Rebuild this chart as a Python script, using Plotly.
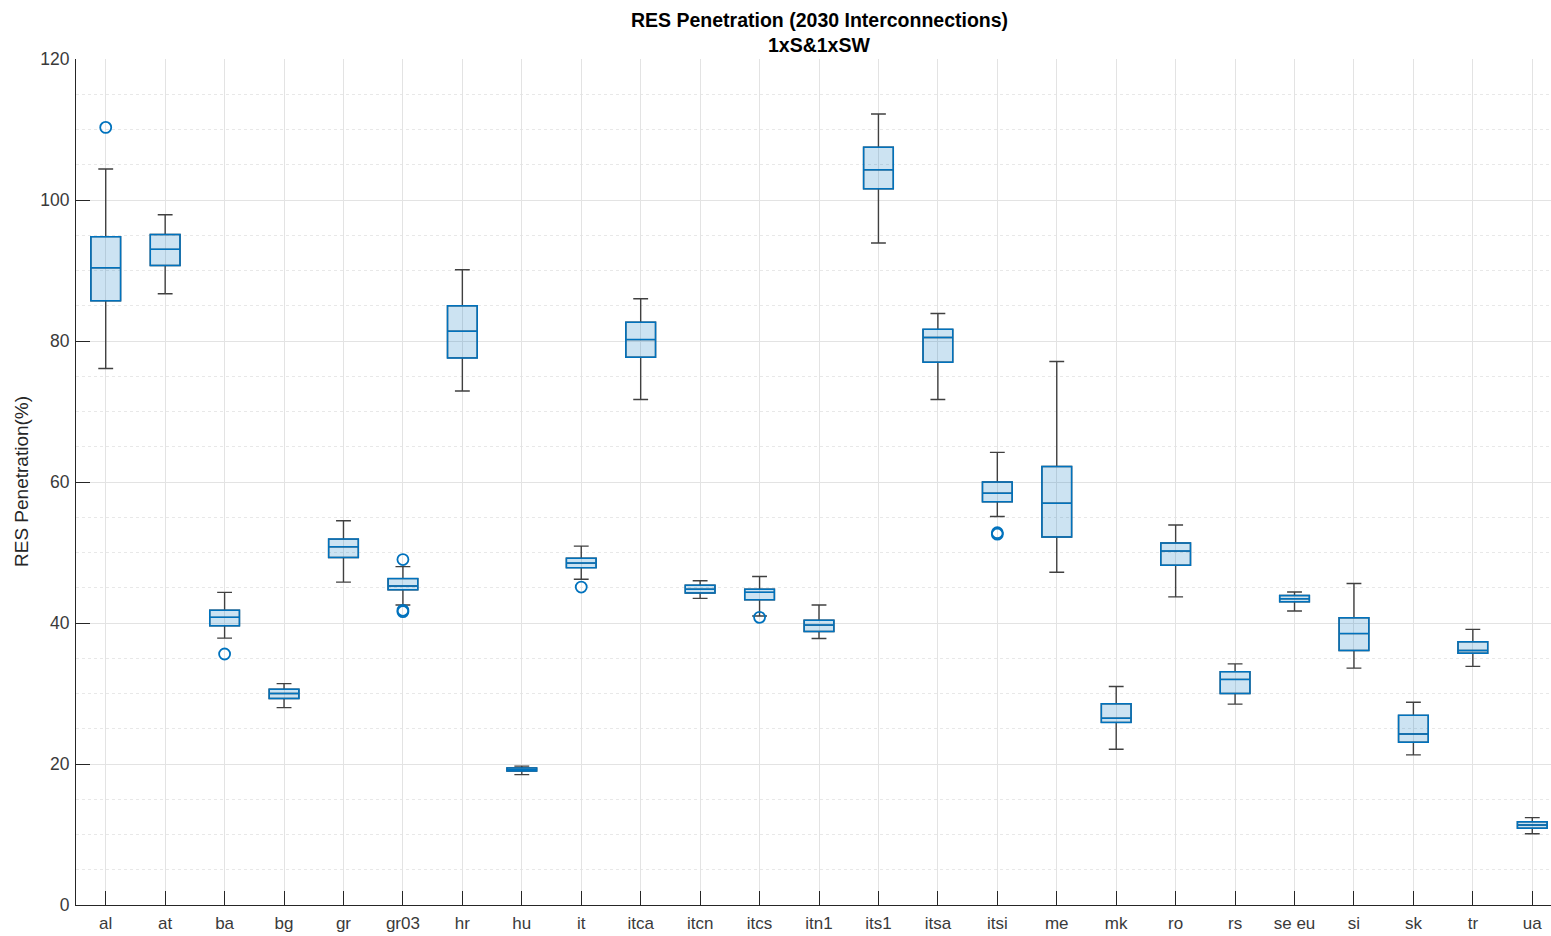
import plotly.graph_objects as go

categories = ['al', 'at', 'ba', 'bg', 'gr', 'gr03', 'hr', 'hu', 'it', 'itca', 'itcn', 'itcs', 'itn1',
              'its1', 'itsa', 'itsi', 'me', 'mk', 'ro', 'rs', 'se eu', 'si', 'sk', 'tr', 'ua']
lower = [76.1, 86.7, 37.85, 28.0, 45.8, 42.55, 72.9, 18.5, 46.2, 71.7, 43.5, 41.0, 37.8,
         93.9, 71.7, 55.1, 47.2, 22.1, 43.7, 28.5, 41.7, 33.6, 21.3, 33.85, 10.1]
q1 = [85.7, 90.7, 39.6, 29.3, 49.3, 44.7, 77.6, 19.0, 47.85, 77.7, 44.25, 43.3, 38.8,
      101.6, 77.0, 57.2, 52.2, 25.9, 48.2, 30.0, 43.0, 36.1, 23.1, 35.7, 10.9]
median = [90.4, 93.0, 40.8, 30.0, 50.8, 45.25, 81.4, 19.2, 48.5, 80.2, 44.8, 44.35, 39.7,
          104.3, 80.5, 58.4, 57.0, 26.5, 50.2, 32.0, 43.45, 38.5, 24.25, 36.1, 11.35]
q3 = [94.8, 95.1, 41.8, 30.6, 51.9, 46.3, 85.0, 19.45, 49.2, 82.65, 45.35, 44.8, 40.4,
      107.5, 81.65, 60.0, 62.2, 28.55, 51.35, 33.1, 43.9, 40.75, 26.9, 37.35, 11.8]
upper = [104.4, 97.9, 44.35, 31.4, 54.5, 48.0, 90.1, 19.7, 50.9, 86.0, 46.0, 46.6, 42.55,
         112.2, 83.9, 64.2, 77.1, 31.0, 53.9, 34.2, 44.4, 45.6, 28.75, 39.1, 12.4]

outlier_cat = ['al', 'ba', 'gr03', 'gr03', 'gr03', 'it', 'itcs', 'itsi', 'itsi']
outlier_val = [110.3, 35.6, 49.0, 41.6, 41.8, 45.1, 40.8, 52.6, 52.8]

y_ticks = [0, 20, 40, 60, 80, 100, 120]

title_line1 = 'RES Penetration (2030 Interconnections)'
title_line2 = '1xS&amp;1xSW'
y_title = 'RES Penetration(%)'

BLUE = '#0072BD'
DARK = '#404040'
AX = '#262626'
LBL = '#3a3a3a'
FONT = 'Liberation Sans, Arial, Helvetica, sans-serif'

xpos = list(range(1, len(categories) + 1))
idx = {c: i + 1 for i, c in enumerate(categories)}

fig = go.Figure()
# whiskers (dark)
fig.add_trace(go.Box(
    x=xpos, q1=q1, median=median, q3=q3, lowerfence=lower, upperfence=upper,
    width=0.5, whiskerwidth=0.5, line=dict(color=DARK, width=1.4),
    fillcolor='rgba(0,0,0,0)', boxpoints=False, showlegend=False, hoverinfo='skip'))
# boxes (blue)
fig.add_trace(go.Box(
    x=xpos, q1=q1, median=median, q3=q3, lowerfence=q1, upperfence=q3,
    width=0.5, whiskerwidth=0, line=dict(color=BLUE, width=1.5),
    fillcolor='rgba(0,114,189,0.2)', boxpoints=False, showlegend=False))
# outliers
fig.add_trace(go.Scatter(
    x=[idx[c] for c in outlier_cat], y=outlier_val, mode='markers',
    marker=dict(symbol='circle-open', size=11, color=BLUE, line=dict(width=1.8, color=BLUE)),
    showlegend=False))

fig.update_layout(
    width=1551, height=936,
    margin=dict(l=76, r=0, t=59, b=31),
    paper_bgcolor='white', plot_bgcolor='white',
    boxmode='overlay',
    font=dict(family=FONT, color=LBL, size=17),
    xaxis=dict(
        range=[0.5, 25.315], tickmode='array', tickvals=xpos, ticktext=categories,
        showgrid=True, gridcolor='#e3e3e3', gridwidth=1,
        ticks='inside', ticklen=14, tickcolor=AX, tickwidth=1,
        showline=True, linecolor=AX, linewidth=1, zeroline=False,
        tickfont=dict(size=17, color=LBL, family=FONT), ticklabelstandoff=3,
    ),
    yaxis=dict(
        range=[0, 120], tickmode='array', tickvals=y_ticks,
        showgrid=True, gridcolor='#e3e3e3', gridwidth=1,
        ticks='inside', ticklen=14, tickcolor=AX, tickwidth=1,
        showline=True, linecolor=AX, linewidth=1, zeroline=False,
        tickfont=dict(size=17.5, color=LBL, family=FONT), ticklabelstandoff=2,
        minor=dict(dtick=5, showgrid=True, gridcolor='#e8e8e8', griddash='dot', gridwidth=1, ticks=''),
    ),
    annotations=[
        dict(text='<b>' + title_line1 + '</b>', xref='paper', yref='paper',
             x=(819 - 76) / 1475, y=1 + (59 - 20) / 846, xanchor='center', yanchor='middle',
             showarrow=False, font=dict(size=19.5, color='black', family=FONT)),
        dict(text='<b>' + title_line2 + '</b>', xref='paper', yref='paper',
             x=(819 - 76) / 1475, y=1 + (59 - 45) / 846, xanchor='center', yanchor='middle',
             showarrow=False, font=dict(size=19.5, color='black', family=FONT)),
        dict(text=y_title, xref='paper', yref='paper',
             x=(21 - 76) / 1475, y=0.5, xanchor='center', yanchor='middle', textangle=-90,
             showarrow=False, font=dict(size=19, color=AX, family=FONT)),
    ],
)

fig.write_html('out.html')
